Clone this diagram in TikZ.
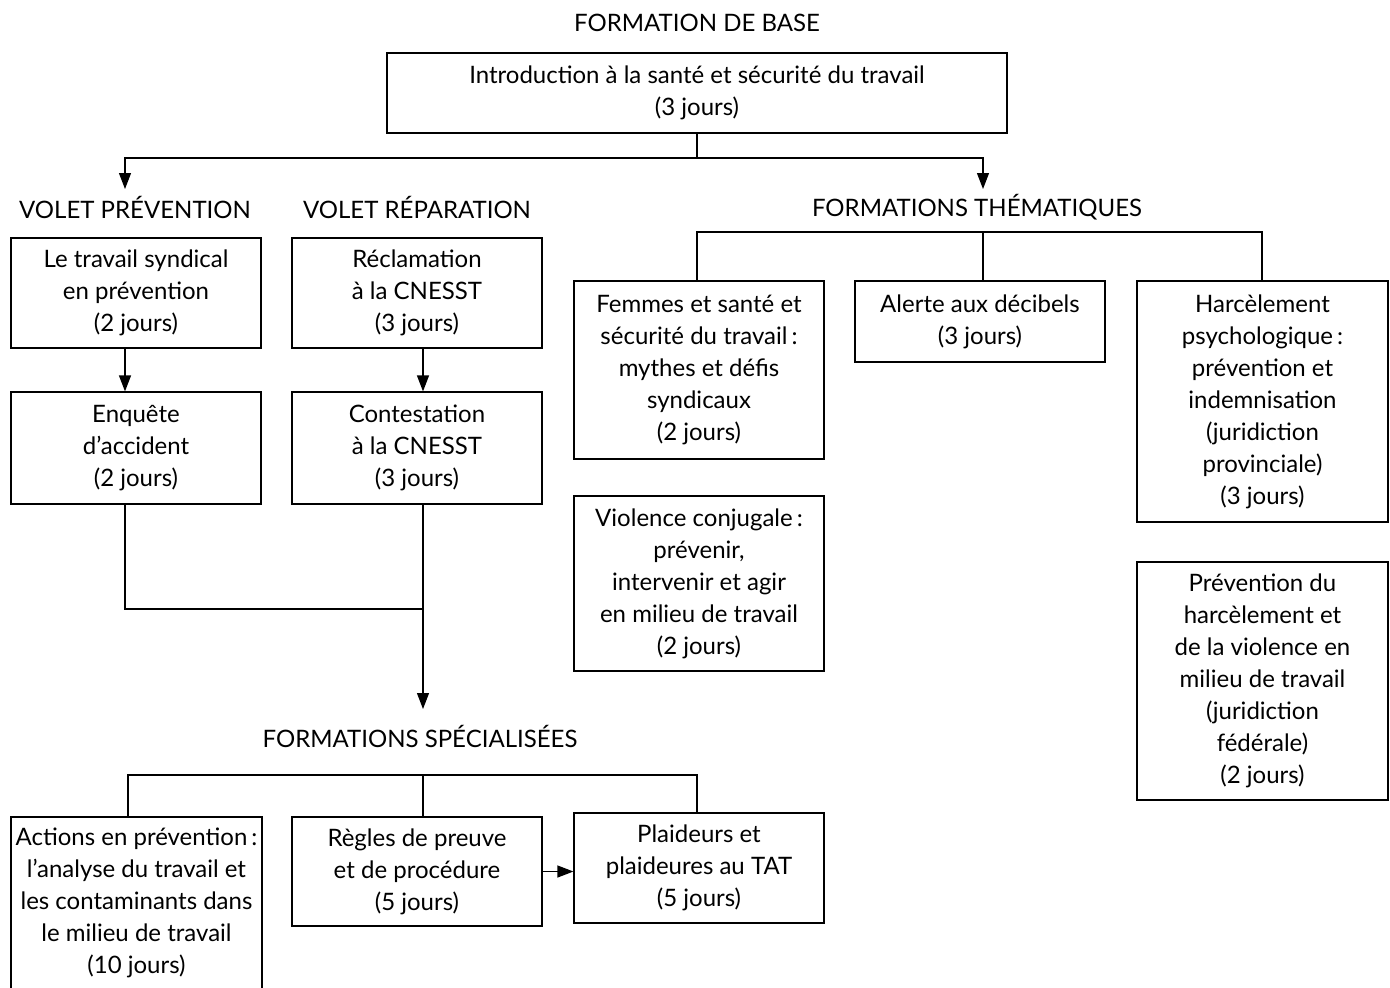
\documentclass[tikz,border=0pt]{standalone}
\usepackage{fontspec}
\setmainfont{Lato}
\usetikzlibrary{arrows.meta}
\newcommand\fsz{\fontsize{24}{32}\selectfont}
\begin{document}
\begin{tikzpicture}[x=1pt,y=-1pt,
 box/.style={draw, line width=1.2pt, align=center, inner sep=0pt, font=\fsz},
 lbl/.style={align=center, inner sep=0pt, font=\fsz},
 ln/.style={line width=1.2pt},
 arr/.style={line width=1.2pt, -{Triangle[width=12pt,length=16pt]}}]
\useasboundingbox (0,0) rectangle (1390,988);
\fill[white] (0,0) rectangle (1390,988);
\node[lbl] (base) at (697,23) {FORMATION DE BASE};
\node[box,minimum width=620pt,minimum height=80pt] (intro) at (697,93) {Introduction à la santé et sécurité du travail\\(3 jours)};
\node[lbl] (vp) at (135,207) {VOLET PRÉVENTION};
\node[lbl] (vr) at (417,207) {VOLET RÉPARATION};
\node[lbl] (ft) at (977,207) {FORMATIONS THÉMATIQUES};
\node[box,minimum width=250pt,minimum height=110pt] (p1) at (136,293) {Le travail syndical\\en prévention\\(2 jours)};
\node[box,minimum width=250pt,minimum height=112pt] (p2) at (136,448) {Enquête\\d’accident\\(2 jours)};
\node[box,minimum width=250pt,minimum height=110pt] (r1) at (417,293) {Réclamation\\à la CNESST\\(3 jours)};
\node[box,minimum width=250pt,minimum height=112pt] (r2) at (417,448) {Contestation\\à la CNESST\\(3 jours)};
\node[box,minimum width=250pt,minimum height=178pt] (t1) at (699,370) {Femmes et santé et\\sécurité du travail\,:\\mythes et défis\\syndicaux\\(2 jours)};
\node[box,minimum width=250pt,minimum height=81pt] (t2) at (980,321.5) {Alerte aux décibels\\(3 jours)};
\node[box,minimum width=251pt,minimum height=241pt] (t3) at (1262.5,401.5) {Harcèlement\\psychologique\,:\\prévention et\\indemnisation\\(juridiction\\provinciale)\\(3 jours)};
\node[box,minimum width=250pt,minimum height=175pt] (t4) at (699,583.5) {Violence conjugale\,:\\prévenir,\\intervenir et agir\\en milieu de travail\\(2 jours)};
\node[box,minimum width=251pt,minimum height=238pt] (t5) at (1262.5,681) {Prévention du\\harcèlement et\\de la violence en\\milieu de travail\\(juridiction\\fédérale)\\(2 jours)};
\node[lbl] (fs) at (420,736) {FORMATIONS SPÉCIALISÉES};
\node[box,minimum width=251pt,minimum height=172pt] (s1) at (136.5,903) {Actions en prévention\,:\\l’analyse du travail et\\les contaminants dans\\le milieu de travail\\(10 jours)};
\node[box,minimum width=250pt,minimum height=109pt] (s2) at (417,871.5) {Règles de preuve\\et de procédure\\(5 jours)};
\node[box,minimum width=250pt,minimum height=110pt] (s3) at (699,868) {Plaideurs et\\plaideures au TAT\\(5 jours)};
% top connectors
\coordinate (j0) at (697,158);
\coordinate (a1) at (125,189);
\coordinate (a2) at (983,189);
\draw[ln] (intro.south) -- (j0);
\draw[arr] (j0) -| (a1);
\draw[arr] (j0) -| (a2);
% volets
\draw[arr] ([xshift=-11pt]p1.south) -- ([xshift=-11pt]p2.north);
\draw[arr] ([xshift=6pt]r1.south) -- ([xshift=6pt]r2.north);
\coordinate (m) at (423,609);
\coordinate (fa) at (423,709);
\draw[ln] ([xshift=-11pt]p2.south) |- (m);
\draw[arr] ([xshift=6pt]r2.south) -- (fa);
% thematic tree
\coordinate (d1) at (697,232);
\coordinate (d2) at (983,232);
\coordinate (d3) at (1262,232);
\draw[ln] ([xshift=-2pt]t1.north) -- (d1) -- (d3) -- ([xshift=-0.5pt]t3.north);
\draw[ln] ([xshift=3pt]t2.north) -- (d2);
% specialised tree
\coordinate (c1) at (128,775);
\coordinate (c2) at (423,775);
\coordinate (c3) at (697,775);
\draw[ln] ([xshift=-8.5pt]s1.north) -- (c1) -- (c3) -- ([xshift=-2pt]s3.north);
\draw[ln] ([xshift=6pt]s2.north) -- (c2);
\draw[arr] (s2.east) -- (s2.east -| s3.west);
\end{tikzpicture}
\end{document}
